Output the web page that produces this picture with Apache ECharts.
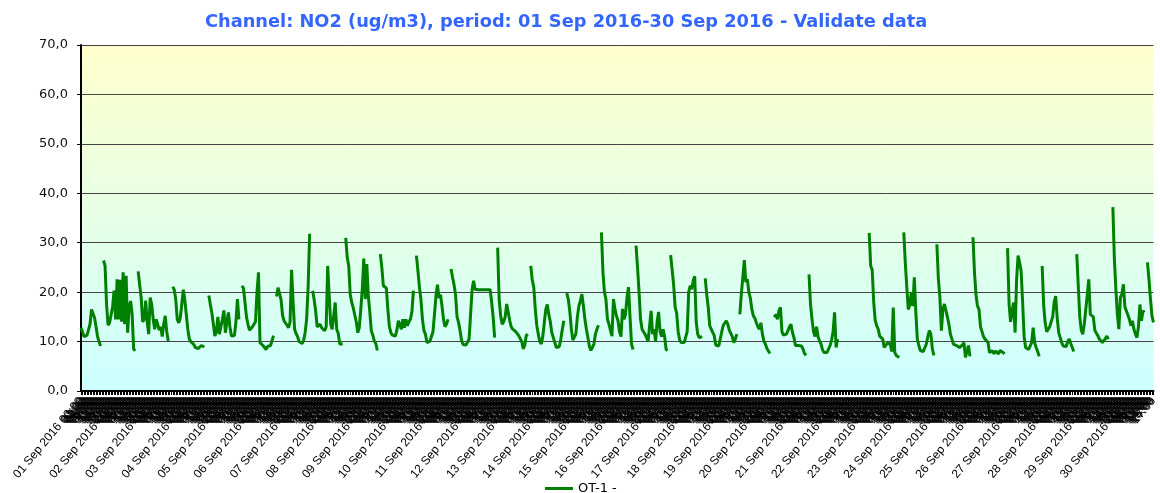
<!DOCTYPE html>
<html>
<head>
<meta charset="utf-8">
<script src="https://cdn.jsdelivr.net/npm/echarts@6/dist/echarts.min.js"></script>
<style>
html,body{margin:0;padding:0;background:#fff;}
#chart{width:1160px;height:493px;}
</style>
</head>
<body>
<div id="chart"></div>
<script>
// Day labels (x axis categories are one per hour)
var days = ['01 Sep 2016','02 Sep 2016','03 Sep 2016','04 Sep 2016','05 Sep 2016','06 Sep 2016','07 Sep 2016','08 Sep 2016','09 Sep 2016','10 Sep 2016',
            '11 Sep 2016','12 Sep 2016','13 Sep 2016','14 Sep 2016','15 Sep 2016','16 Sep 2016','17 Sep 2016','18 Sep 2016','19 Sep 2016','20 Sep 2016',
            '21 Sep 2016','22 Sep 2016','23 Sep 2016','24 Sep 2016','25 Sep 2016','26 Sep 2016','27 Sep 2016','28 Sep 2016','29 Sep 2016','30 Sep 2016'];
var hours = ['00:00','01:00','02:00','03:00','04:00','05:00','06:00','07:00','08:00','09:00','10:00','11:00',
             '12:00','13:00','14:00','15:00','16:00','17:00','18:00','19:00','20:00','21:00','22:00','23:00'];
var yTicks = [0,10,20,30,40,50,60,70];

// Hourly NO2 values (ug/m3) per day, null = no valid data
var d01 = [12.8,12.0,11.0,10.8,11.3,11.6,13.5,16.5,16.8,14.8,13.0,11.0,10.0,9.1,null,26.4,25.3,17.5,13.3,13.8,13.5,17.0,20.3,14.5];
var d02 = [22.6,14.5,22.5,14.0,24.0,13.5,23.3,11.8,17.0,18.2,15.5,8.5,8.1,null,24.2,21.5,18.9,14.0,14.5,18.3,14.0,11.5,18.9,17.5];
var d03 = [14.5,12.5,14.5,13.5,12.3,13.0,11.0,13.5,15.2,12.0,10.1,null,null,21.1,20.5,18.5,14.5,13.8,14.8,17.5,20.5,18.5,15.5,12.5];
var d04 = [10.5,10.0,9.6,9.4,8.8,8.4,8.6,9.0,9.2,8.9,8.9,null,null,19.3,17.5,15.8,13.5,11.1,12.0,15.0,11.5,13.0,14.5,16.3];
var d05 = [11.8,14.0,15.9,13.0,11.1,11.1,11.2,14.0,18.6,14.5,null,21.3,20.8,18.0,15.0,13.5,12.3,12.6,13.0,13.2,14.0,20.0,24.0,9.8];
var d06 = [9.6,9.2,9.0,8.4,9.0,8.9,9.2,9.1,11.2,null,19.1,20.9,20.5,18.5,15.3,14.2,14.0,13.3,12.8,14.0,24.5,18.0,12.5,11.6];
var d07 = [11.0,10.0,9.7,9.6,10.2,11.8,14.5,21.0,31.8,null,20.3,18.5,16.2,13.0,12.8,13.5,12.8,12.5,12.2,13.0,25.3,19.3,13.5,12.5];
var d08 = [12.2,17.9,12.5,11.7,9.5,9.8,9.5,null,31.0,27.0,25.3,19.5,17.9,16.8,16.6,14.0,11.8,12.8,16.5,20.5,26.8,18.6,25.7,19.3];
var d09 = [16.0,12.2,11.3,10.1,9.6,8.2,null,27.7,25.0,21.3,21.3,20.8,16.5,13.0,11.8,11.3,11.1,11.1,12.3,14.2,13.5,12.5,14.5,12.8];
var d10 = [14.5,13.2,14.0,14.5,16.0,20.3,null,27.4,24.3,21.0,18.5,14.5,12.2,11.5,9.8,10.2,10.1,10.1,12.0,15.5,19.3,21.5,18.8,19.5];
var d11 = [17.2,14.5,13.0,13.5,14.5,null,24.7,23.0,21.5,19.5,15.0,13.9,12.2,10.2,9.4,9.1,9.3,9.6,10.5,15.5,20.5,22.3,20.6,20.5];
var d12 = [20.5,20.5,20.5,20.5,20.5,20.5,20.5,20.5,20.5,18.0,15.0,10.8,null,29.0,18.5,15.2,13.5,14.0,15.0,17.6,17.3,14.3,13.0,12.5];
var d13 = [12.5,12.0,11.6,11.2,11.0,10.0,8.5,9.2,11.2,11.5,null,25.3,22.5,21.0,16.6,13.3,11.5,10.0,9.5,11.0,13.8,16.5,17.5,15.5];
var d14 = [14.0,11.8,10.8,9.8,8.8,8.8,9.0,10.5,12.5,14.2,null,19.8,18.5,16.0,12.5,10.3,9.9,11.5,15.0,17.2,18.2,19.6,17.2,14.5];
var d15 = [12.5,10.8,9.0,8.2,7.8,9.5,11.5,12.5,13.3,null,32.1,24.0,20.0,18.5,14.5,13.5,13.1,11.1,18.6,16.5,15.2,14.2,12.0,11.0];
var d16 = [16.6,14.5,15.5,19.0,21.0,15.0,9.5,8.4,null,29.4,25.0,20.0,14.5,12.5,12.0,11.5,10.8,10.0,9.8,16.2,11.5,12.5,10.0,14.0];
var d17 = [16.0,12.0,11.0,12.5,11.0,8.4,8.2,null,27.5,24.5,21.5,16.9,15.8,12.0,10.3,9.8,9.4,9.8,10.2,12.0,20.0,21.3,20.6,22.3];
var d18 = [23.2,14.0,11.5,10.8,11.0,11.0,null,22.8,19.5,16.9,13.2,12.5,11.8,11.2,9.3,9.1,9.1,9.3,12.0,13.3,13.0,14.2,13.5,12.3];
var d19 = [12.0,11.0,9.8,10.5,11.5,null,15.5,19.6,19.9,26.5,22.0,22.6,20.0,18.8,16.5,15.2,14.7,13.8,13.0,12.5,13.8,11.5,10.1,9.5];
var d20 = [8.6,8.2,7.6,null,null,14.9,15.5,14.5,16.2,16.9,12.0,11.3,11.5,11.5,12.2,13.0,13.5,11.8,10.8,9.2,9.5,9.2,8.9,9.1];
var d21 = [8.5,7.6,7.2,null,23.6,17.5,14.5,12.0,11.0,13.0,11.0,10.1,9.5,8.3,7.8,7.8,7.8,8.0,9.2,10.3,12.0,15.9,8.8,10.5];
var d22 = [null,null,null,null,null,null,null,null,null,null,null,null,null,null,null,null,null,null,null,null,32.0,25.3,24.5,18.0];
var d23 = [14.3,13.2,12.5,11.1,10.8,10.5,8.8,9.2,9.7,9.3,9.5,8.0,16.9,7.8,7.2,6.8,6.8,null,null,32.1,26.0,21.0,16.5,17.5];
var d24 = [19.9,17.2,23.0,16.0,10.5,9.2,8.2,8.0,8.0,8.3,9.5,11.0,12.2,11.5,8.5,7.2,null,29.7,22.6,19.0,12.2,16.5,17.6,17.2];
var d25 = [15.0,13.5,11.5,10.5,9.5,9.1,9.2,9.0,8.8,9.0,9.3,9.8,6.8,7.0,9.2,7.0,null,31.1,24.0,19.5,17.2,16.5,13.0,12.0];
var d26 = [11.0,10.5,10.3,9.8,7.8,7.5,8.1,7.5,8.1,8.4,7.5,8.2,8.0,7.8,7.5,null,28.9,17.6,14.0,16.2,17.9,11.8,22.6,27.4];
var d27 = [26.0,24.3,18.0,11.0,8.8,8.4,8.4,8.8,9.8,12.8,9.8,8.8,8.0,7.0,null,25.3,17.3,13.8,12.0,12.5,13.0,12.9,15.0,18.0];
var d28 = [19.2,14.8,11.8,11.8,9.8,9.1,9.1,9.0,10.0,10.5,9.6,9.2,8.0,null,27.7,21.3,15.0,12.3,11.5,13.5,16.5,19.5,22.6,15.5];
var d29 = [15.3,15.0,12.3,11.7,11.2,10.5,10.1,9.8,10.0,10.6,11.1,10.5,null,null,37.2,26.7,20.6,15.5,12.5,18.9,19.6,21.6,17.0,16.2];
var d30 = [16.0,14.5,13.2,14.2,12.5,11.5,10.8,13.0,17.5,14.2,16.2,15.9,null,26.0,22.6,18.6,15.2,13.9];

var dayData = [d01,d02,d03,d04,d05,d06,d07,d08,d09,d10,d11,d12,d13,d14,d15,d16,d17,d18,d19,d20,d21,d22,d23,d24,d25,d26,d27,d28,d29,d30];
var categories = [];
var values = [];
dayData.forEach(function (arr, d) {
  arr.forEach(function (v, h) {
    categories.push(days[d] + ' ' + hours[h]);
    values.push(v);
  });
});

var chart = echarts.init(document.getElementById('chart'), null, {renderer: 'canvas'});
chart.setOption({
  animation: false,
  backgroundColor: '#ffffff',
  title: {
    text: 'Channel: NO2 (ug/m3), period: 01 Sep 2016-30 Sep 2016 - Validate data',
    left: 205,
    top: 13,
    padding: 0,
    textStyle: {fontFamily: 'DejaVu Sans', fontSize: 17.8, fontWeight: 'bold', color: '#3366ff'}
  },
  legend: {
    data: ['OT-1 -'],
    left: 540,
    top: 477,
    icon: 'rect',
    itemWidth: 28,
    itemHeight: 3,
    itemGap: 10,
    textStyle: {fontFamily: 'DejaVu Sans', fontSize: 13, color: '#000'}
  },
  grid: {
    left: 81, top: 45, right: 0, bottom: 102,
    show: true,
    borderWidth: 0,
    backgroundColor: {type: 'linear', x: 0, y: 0, x2: 0, y2: 1,
      colorStops: [{offset: 0, color: '#ffffcc'}, {offset: 1, color: '#ccffff'}]}
  },
  xAxis: {
    type: 'category',
    data: categories,
    boundaryGap: false,
    axisLine: {lineStyle: {color: '#000', width: 2}},
    axisTick: {show: true, interval: 0, length: 4, lineStyle: {color: '#000', width: 1}},
    axisLabel: {
      interval: 0, rotate: 50, margin: 8,
      fontFamily: 'Liberation Sans', fontSize: 12, color: '#000',
      formatter: function (val, idx) {
        return (idx % 24 === 0) ? val : hours[idx % 24];
      }
    },
    splitLine: {show: false}
  },
  yAxis: {
    type: 'value',
    min: yTicks[0], max: yTicks[yTicks.length - 1], interval: 10,
    axisLine: {show: true, lineStyle: {color: '#000', width: 2}},
    axisTick: {show: true, length: 4, lineStyle: {color: '#000'}},
    axisLabel: {
      margin: 13, fontFamily: 'DejaVu Sans', fontSize: 13, color: '#111',
      formatter: function (v) { return v.toFixed(1).replace('.', ','); }
    },
    splitLine: {show: true, lineStyle: {color: '#444', width: 1}}
  },
  series: [{
    name: 'OT-1 -',
    type: 'line',
    data: values,
    symbol: 'none',
    connectNulls: false,
    lineStyle: {color: '#008000', width: 3},
    itemStyle: {color: '#008000'}
  }]
});
</script>
</body>
</html>
